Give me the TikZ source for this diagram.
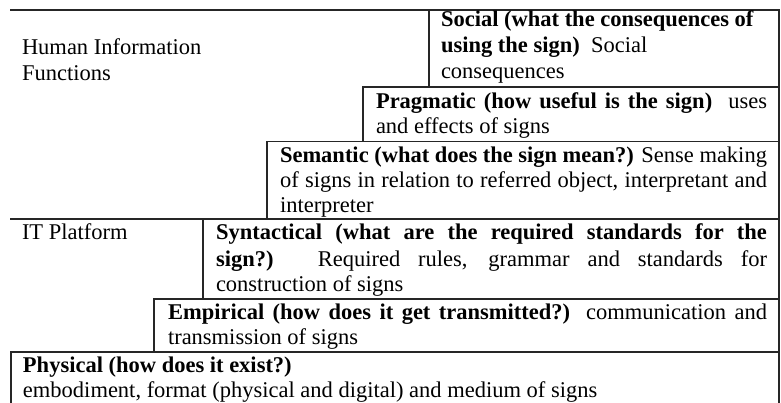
\documentclass[tikz,border=0pt]{standalone}
\usepackage{fontspec}
\setmainfont{Liberation Serif}
\tikzset{
  ln/.style={anchor=base west, inner sep=0pt, outer sep=0pt, font=\fontsize{22.5}{25.5}\selectfont},
  rule/.style={line width=1.1pt, draw=black!85, line cap=rect}
}
\begin{document}
\begin{tikzpicture}[x=1pt,y=-1pt]
\useasboundingbox (0,0) rectangle (781,403);
% rules
\draw[rule] (11,10) -- (779,10);
\draw[rule] (779,10) -- (779,403);
\draw[rule] (429,10) -- (429,87);
\draw[rule] (363,87) -- (779,87);
\draw[rule] (363,87) -- (363,141.5);
\draw[rule] (267,141.5) -- (779,141.5);
\draw[rule] (267,141.5) -- (267,219);
\draw[rule] (11,219) -- (779,219);
\draw[rule] (203,219) -- (203,299);
\draw[rule] (154,299) -- (779,299);
\draw[rule] (154,299) -- (154,352);
\draw[rule] (11,352) -- (779,352);
\draw[rule] (11,352) -- (11,403);
% texts
\node[ln] (hum1) at (22,55) {Human Information};
\node[ln] (hum2) at (22,81) {Functions};
\node[ln] (soc1) at (441,27) {\bfseries Social (what the consequences of};
\node[ln] (soc2) at (441,53) {\textbf{using the sign)}\ \ Social};
\node[ln] (soc3) at (441,79) {consequences};
\node[ln] (pra1) at (376,109) {\makebox[391pt][s]{\textbf{Pragmatic (how useful is the sign)}\ \ uses}};
\node[ln] (pra2) at (376,134) {and effects of signs};
\node[ln] (sem1) at (280,163) {\makebox[487pt][s]{\textbf{Semantic (what does the sign mean?)} Sense making}};
\node[ln] (sem2) at (280,188) {\makebox[487pt][s]{of signs in relation to referred object, interpretant and}};
\node[ln] (sem3) at (280,213) {interpreter};
\node[ln] (itp) at (22,240) {IT Platform};
\node[ln] (syn1) at (216,240) {\makebox[551pt][s]{\bfseries Syntactical (what are the required standards for the}};
\node[ln] (syn2) at (216,266) {\makebox[551pt][s]{\textbf{sign?)} Required rules, grammar and standards for}};
\node[ln] (syn3) at (216,291) {construction of signs};
\node[ln] (emp1) at (168,319) {\makebox[599pt][s]{\textbf{Empirical (how does it get transmitted?)} communication and}};
\node[ln] (emp2) at (168,344) {transmission of signs};
\node[ln] (phy1) at (23,372) {\bfseries Physical (how does it exist?)};
\node[ln] (phy2) at (23,397) {embodiment, format (physical and digital) and medium of signs};
\end{tikzpicture}
\end{document}
